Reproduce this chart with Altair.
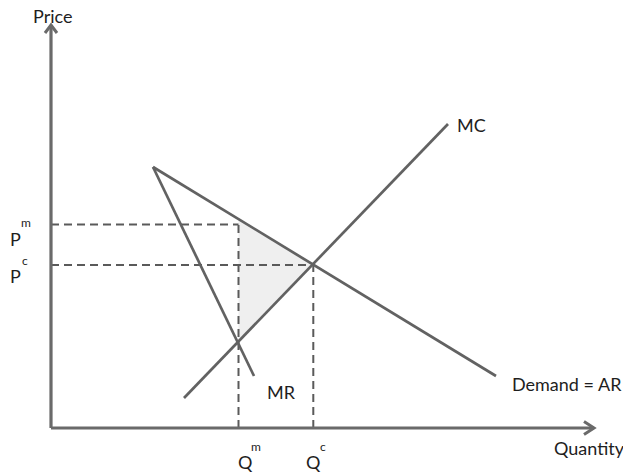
import altair as alt
import pandas as pd
import numpy as np

# Curves (Quantity, Price) in diagram units
demand_q = [10.2, 44.5]
demand_p = [26.1, 5.2]
mr_q = [10.2, 20.3]
mr_p = [26.1, 5.2]
mc_q = [13.3, 39.7]
mc_p = [3.0, 30.4]

# Key levels
Qm, Qc = 18.75, 26.23
Pm, Pc = 20.35, 16.3

# Axis extents
x_axis_end = 54.3
y_axis_end = 40.3

# Labels: text, q (left), p (baseline)
main_labels = ["Price", "MC", "Demand = AR", "Quantity", "MR", "P", "P", "Q", "Q"]
main_q = [-1.8, 40.6, 46.1, 50.3, 21.6, -4.1, -4.1, 18.7, 25.5]
main_p = [40.5, 29.6, 3.7, -2.7, 2.9, 18.2, 14.5, -4.1, -4.1]
sup_labels = ["m", "c", "m", "c"]
sup_q = [-3.0, -2.9, 20.0, 26.9]
sup_p = [20.1, 16.3, -2.3, -2.3]

W, H = 615, 467
QMIN, PMAX = -4.3, 42.0
xs = alt.Scale(domain=[QMIN, QMIN + W / 10], nice=False, zero=False)
ys = alt.Scale(domain=[PMAX - H / 10, PMAX], nice=False, zero=False)

LINE = "#626262"
AXIS = "#6a6a6a"
FONT = "Lato"

def line_df(qs, ps, name):
    return pd.DataFrame({"q": qs, "p": ps, "s": name, "o": range(len(qs))})

curves = pd.concat([
    line_df(demand_q, demand_p, "Demand"),
    line_df(mr_q, mr_p, "MR"),
    line_df(mc_q, mc_p, "MC"),
])

axes_df = pd.concat([
    line_df([0, x_axis_end], [0, 0], "xaxis"),
    line_df([0, 0], [0, y_axis_end], "yaxis"),
])

dash_df = pd.DataFrame({
    "q": [0, 0, Qm, Qc], "p": [Pm, Pc, 0, 0],
    "q2": [Qm, Qc, Qm, Qc], "p2": [Pm, Pc, Pm, Pc],
})

# Deadweight-loss triangle from curves
d_at_qm = float(np.interp(Qm, demand_q, np.array(demand_p)))
mc_at_qm = float(np.interp(Qm, mc_q, mc_p))
tri = pd.DataFrame({"q": [Qm, Qc, Qm], "p": [d_at_qm, Pc, mc_at_qm], "o": [0, 1, 2]})

enc = dict(x=alt.X("q:Q", scale=xs, axis=None), y=alt.Y("p:Q", scale=ys, axis=None))

fill = alt.Chart(tri).mark_line(fill="#efefef", stroke=None, strokeWidth=0, interpolate="linear-closed").encode(
    order="o:O", **enc)

dashes = alt.Chart(dash_df).mark_rule(color="#5a5a5a", strokeWidth=2, strokeDash=[8, 5]).encode(
    x=alt.X("q:Q", scale=xs, axis=None), y=alt.Y("p:Q", scale=ys, axis=None),
    x2="q2:Q", y2="p2:Q")

curve_layer = alt.Chart(curves).mark_line(color=LINE, strokeWidth=2.7).encode(
    detail="s:N", order="o:O", **enc)

axis_layer = alt.Chart(axes_df).mark_line(color=AXIS, strokeWidth=3.2).encode(
    detail="s:N", order="o:O", **enc)

arrow_r = alt.Chart(pd.DataFrame({"q": [x_axis_end], "p": [0]})).mark_point(
    shape="M -1 -0.65 L 0 0 L -1 0.65", filled=False, size=400, stroke=AXIS,
    strokeWidth=3, opacity=1).encode(**enc)
arrow_u = alt.Chart(pd.DataFrame({"q": [0], "p": [y_axis_end]})).mark_point(
    shape="M -0.75 1 L 0 0 L 0.75 1", filled=False, size=256, stroke=AXIS,
    strokeWidth=3, opacity=1).encode(**enc)

labels = alt.Chart(pd.DataFrame({"t": main_labels, "q": main_q, "p": main_p})).mark_text(
    align="left", baseline="alphabetic", font=FONT, fontSize=18, color="#1e1e1e").encode(
    text="t:N", **enc)
sups = alt.Chart(pd.DataFrame({"t": sup_labels, "q": sup_q, "p": sup_p})).mark_text(
    align="left", baseline="alphabetic", font=FONT, fontSize=12, color="#1e1e1e").encode(
    text="t:N", **enc)

chart = alt.layer(fill, dashes, curve_layer, axis_layer, arrow_r, arrow_u, labels, sups).properties(
    width=W, height=H, padding=0, autosize=alt.AutoSizeParams(type="none"),
    background="white"
).configure_view(stroke=None)

chart.save("out.html", embed_options={"renderer": "svg", "actions": False})
